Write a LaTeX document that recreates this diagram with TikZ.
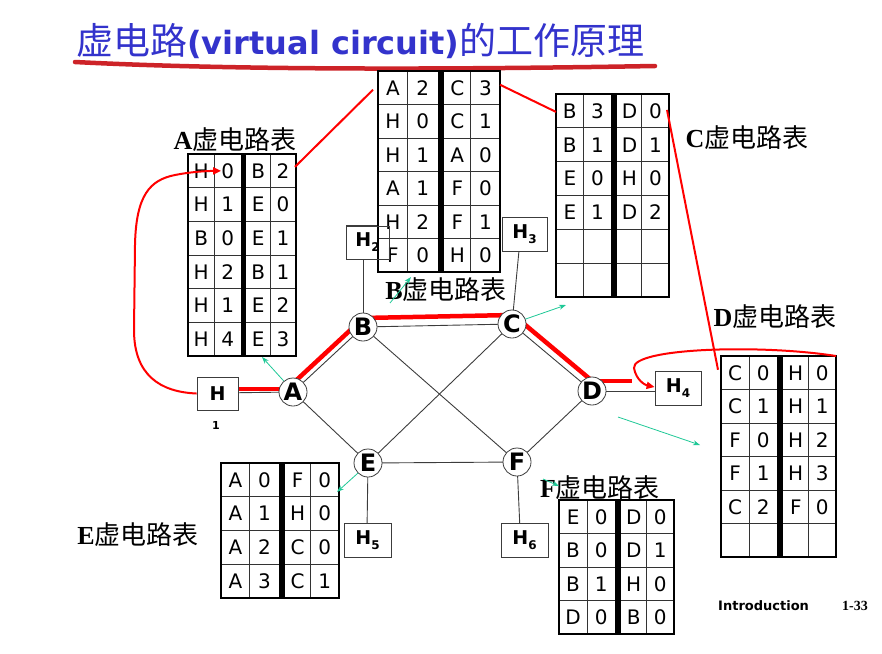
\documentclass[tikz,border=0pt]{standalone}
\usepackage{fontspec}
\setmainfont{Liberation Serif}
\setsansfont{DejaVu Sans}
\newfontfamily\cjk{Noto Sans CJK SC}
\newfontfamily\cellfont{DejaVu Sans}
\usetikzlibrary{arrows.meta,calc}

\definecolor{titleblue}{RGB}{51,51,204}
\definecolor{ulred}{RGB}{205,35,40}
\definecolor{hlred}{RGB}{255,0,0}
\definecolor{tealc}{RGB}{30,200,150}
\definecolor{edgegray}{RGB}{60,60,60}

\tikzset{
 edge/.style={draw=edgegray, line width=0.9pt},
 router/.style={circle, draw=edgegray, fill=white, line width=0.8pt, minimum size=28pt, inner sep=0pt, font=\sffamily\bfseries\fontsize{24}{24}\selectfont},
 hostbox/.style={rectangle, draw=edgegray, fill=white, line width=0.8pt, minimum width=43pt, minimum height=34pt, inner sep=0pt, font=\sffamily\bfseries\fontsize{19}{19}\selectfont},
 cell/.style={inner sep=0pt, font=\cellfont\fontsize{20}{20}\selectfont},
 cellline/.style={draw=black!80, line width=0.9pt},
 tabframe/.style={draw=black, line width=2.6pt},
 hl/.style={draw=hlred, line width=4.5pt},
 hlthin/.style={draw=hlred, line width=2pt},
 tealarrow/.style={draw=tealc, line width=0.8pt, -{Stealth[length=7pt,width=5pt]}},
 tlabel/.style={inner sep=0pt, font=\fontsize{26}{26}\selectfont},
}

\newcommand{\tablabel}[1]{{\bfseries #1}{\cjk 虚电路表}}
\newcommand{\hsub}[1]{H\raisebox{-5pt}{\fontsize{12}{12}\selectfont #1}}

% #1 name, #2 x0, #3 y0, #4 width, #5 row height, #6 rows, #7 contents
\newcommand{\vctable}[7]{%
 \pgfmathsetmacro\tXa{#2+0.245*#4}%
 \pgfmathsetmacro\tXb{#2+0.49*#4}%
 \pgfmathsetmacro\tXc{#2+0.54*#4}%
 \pgfmathsetmacro\tXd{#2+0.76*#4}%
 \pgfmathsetmacro\tXe{#2+#4}%
 \pgfmathsetmacro\tYb{#3+#6*#5}%
 \pgfmathtruncatemacro\tNm{#6-1}%
 \fill[white] (#2,#3) rectangle (\tXe,\tYb);
 \foreach \k in {1,...,\tNm} {\draw[cellline] (#2,{#3+\k*#5}) -- (\tXe,{#3+\k*#5});}
 \draw[cellline] (\tXa,#3) -- (\tXa,\tYb);
 \draw[cellline] (\tXd,#3) -- (\tXd,\tYb);
 \fill[black] (\tXb,#3) rectangle (\tXc,\tYb);
 \draw[tabframe] (#2,#3) rectangle (\tXe,\tYb);
 \coordinate (#1-ne) at (\tXe,#3);
 \coordinate (#1-nw) at (#2,#3);
 \foreach \cA/\cB/\cC/\cD [count=\i] in {#7} {
   \coordinate (#1-\i-L) at (#2,{#3+(\i-0.5)*#5});
   \coordinate (#1-\i-R) at (\tXe,{#3+(\i-0.5)*#5});
   \node[cell] (#1-\i-1) at ({(#2+\tXa)/2},{#3+(\i-0.5)*#5}) {\cA};
   \node[cell] (#1-\i-2) at ({(\tXa+\tXb)/2},{#3+(\i-0.5)*#5}) {\cB};
   \node[cell] (#1-\i-3) at ({(\tXc+\tXd)/2},{#3+(\i-0.5)*#5}) {\cC};
   \node[cell] (#1-\i-4) at ({(\tXd+\tXe)/2},{#3+(\i-0.5)*#5}) {\cD};
 }
}

\begin{document}
\begin{tikzpicture}[x=1pt,y=-1pt]
\useasboundingbox (0,0) rectangle (882,653);

% title
\node[anchor=west, inner sep=0pt, text=titleblue] (title) at (76,41)
  {\cjk\fontsize{37}{37}\selectfont 虚电路{\sffamily\bfseries\fontsize{32}{32}\selectfont(virtual circuit)}的工作原理};
\draw[ulred, line width=4.5pt, line cap=round] (75,62) .. controls (250,71) and (480,69) .. (655,66);

% router & host coordinates
\coordinate (pA) at (293,392);
\coordinate (pB) at (363,327);
\coordinate (pC) at (512,324);
\coordinate (pD) at (592,391);
\coordinate (pE) at (368,463);
\coordinate (pF) at (517,462);

% gray edges
\draw[edge] (pA) -- (pB) -- (pC) -- (pD) -- (pF) -- (pE) -- (pA);
\draw[edge] (pB) -- (pF);
\draw[edge] (pC) -- (pE);
\draw[edge] (217,393) -- (pA);
\draw[edge] (363,250) -- (pB);
\draw[edge] (520,240) -- (pC);
\draw[edge] (pD) -- (670,391);
\draw[edge] (pE) -- (367,530);
\draw[edge] (pF) -- (520,530);

% red highlighted path
\draw[hl] (238,389) -- (293,389);
\draw[hl, transform canvas={shift={(-4.5pt,4.5pt)}}] (pA) -- (pB);
\draw[hl, transform canvas={yshift=9pt}] (pB) -- (pC);
\draw[hl, transform canvas={shift={(5pt,6pt)}}] (pC) -- (pD);
\draw[hl] ([yshift=10pt]pD) -- ++(40,0);

% routers
\node[router] (A) at (pA) {A};
\node[router] (B) at (pB) {B};
\node[router] (C) at (pC) {C};
\node[router] (D) at (pD) {D};
\node[router] (E) at (pE) {E};
\node[router] (F) at (pF) {F};

% hosts
\node[hostbox, minimum width=41pt, minimum height=33pt] (H1) at (217.5,393.5) {H};
\node[font=\sffamily\bfseries\fontsize{11}{11}\selectfont] (hone) at (216,425) {1};
\node[hostbox] (H2) at (367.5,242.5) {\hsub{2}};
\node[hostbox, minimum width=45pt] (H3) at (524.5,234) {\hsub{3}};
\node[hostbox, minimum width=46pt] (H4) at (678,388) {\hsub{4}};
\node[hostbox, minimum width=47pt] (H5) at (367.5,540.5) {\hsub{5}};
\node[hostbox, minimum width=47pt] (H6) at (524.5,540) {\hsub{6}};

% tables
\vctable{At}{188}{154}{108}{33.67}{6}{H/0/B/2, H/1/E/0, B/0/E/1, H/2/B/1, H/1/E/2, H/4/E/3}
\vctable{Bt}{378}{71}{122}{33.5}{6}{A/2/C/3, H/0/C/1, H/1/A/0, A/1/F/0, H/2/F/1, F/0/H/0}
\vctable{Ct}{556}{94}{113}{33.83}{6}{B/3/D/0, B/1/D/1, E/0/H/0, E/1/D/2}
\vctable{Dt}{721}{356}{115}{33.5}{6}{C/0/H/0, C/1/H/1, F/0/H/2, F/1/H/3, C/2/F/0}
\vctable{Et}{221}{463}{118}{33.75}{4}{A/0/F/0, A/1/H/0, A/2/C/0, A/3/C/1}
\vctable{Ft}{559}{500}{115}{33.5}{4}{E/0/D/0, B/0/D/1, B/1/H/0, D/0/B/0}

% H2 outline over table B
\draw[edgegray, line width=0.8pt] (346,226) rectangle (389,259);

% table labels
\node[tlabel] (lA) at (235,140) {\tablabel{A}};
\node[tlabel] (lB) at (446,290) {\tablabel{B}};
\node[tlabel] (lC) at (747,138) {\tablabel{C}};
\node[tlabel] (lD) at (775,317) {\tablabel{D}};
\node[tlabel] (lE) at (138,535) {\tablabel{E}};
\node[tlabel] (lF) at (600,488) {\tablabel{F}};

% red links between tables
\draw[hlthin] ([xshift=-1pt,yshift=4pt]At-1-R) -- ([xshift=-5pt,yshift=-2pt]Bt-1-L);
\draw[hlthin] ([yshift=3pt]Bt-1-R) -- ([yshift=-1pt]Ct-1-L);
\draw[hlthin] ([xshift=-2pt,yshift=1pt]Ct-1-R) -- ([xshift=-3pt,yshift=3pt]Dt-1-L);

% red loops
\draw[hlthin, -{Triangle[length=8pt,width=7pt]}] (H1.west) .. controls (160,392) and (134,375) .. (134,330) -- (135,245) .. controls (136,195) and (150,180) .. (175,175) .. controls (190,172) and (205,171) .. (At-1-2.west);
\draw[hlthin, -{Triangle[length=8pt,width=7pt]}] (Dt-ne) .. controls (760,344) and (632,348) .. (634,368) .. controls (636,380) and (645,385) .. ([yshift=1pt]H4.west);

% teal pointers
\coordinate (gA) at (262,357);
\coordinate (gB0) at (390,303);
\coordinate (gB) at (411,277);
\coordinate (gC) at (566,305);
\coordinate (gD0) at (618,417);
\coordinate (gD) at (700,445);
\coordinate (gE) at (337,492);
\coordinate (gF0) at (543,479);
\coordinate (gF) at (559,486);
\draw[tealarrow] (A.130) -- (gA);
\draw[tealarrow] (gB0) -- (gB);
\draw[tealarrow] (C.20) -- (gC);
\draw[tealarrow] (gD0) -- (gD);
\draw[tealarrow] (E.225) -- (gE);
\draw[tealarrow] (gF0) -- (gF);

% footer
\node[anchor=west, inner sep=0pt, font=\sffamily\bfseries\fontsize{13}{13}\selectfont] (intro) at (718,606) {Introduction};
\node[anchor=west, inner sep=0pt, font=\bfseries\fontsize{14}{14}\selectfont] (pg) at (842,606) {1-33};
\end{tikzpicture}
\end{document}
